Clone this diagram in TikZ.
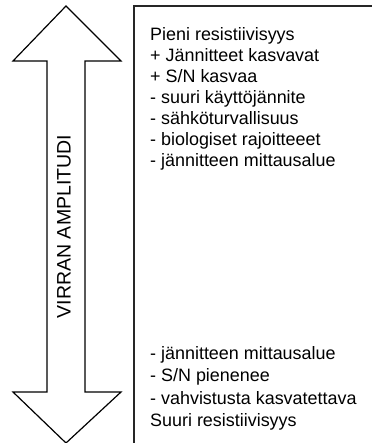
\documentclass[tikz,border=0pt]{standalone}
\usepackage{fontspec}
\setmainfont{Liberation Sans}
\begin{document}
\begin{tikzpicture}[x=1bp,y=-1bp,
  lbl/.style={anchor=base west,inner sep=0pt,font=\fontsize{18}{21}\selectfont},
  arrowshape/.style={draw=black,line width=1.2bp,line join=miter,fill=white},
  boxline/.style={draw=black!85,line width=2.6bp}]
\useasboundingbox (0,0) rectangle (371,443);
% double arrow
\path[arrowshape] (66,6) -- (121,61) -- (85,61) -- (85,392) -- (121,392) -- (66,443)
  -- (13,392) -- (47,392) -- (47,61) -- (13,61) -- cycle;
\node[anchor=base,inner sep=0pt,rotate=90,font=\fontsize{19.6}{22}\selectfont] (amp) at (70.5,226.5) {VIRRAN AMPLITUDI};
% box
\path[boxline] (134,445) -- (134,6) -- (372,6);
% top text
\node[lbl] (t1) at (150,41) {Pieni resistiivisyys};
\node[lbl] (t2) at (150,62) {+ Jännitteet kasvavat};
\node[lbl] (t3) at (150,83) {+ S/N kasvaa};
\node[lbl] (t4) at (150,104) {- suuri käyttöjännite};
\node[lbl] (t5) at (150,125) {- sähköturvallisuus};
\node[lbl] (t6) at (150,146) {- biologiset rajoitteeet};
\node[lbl] (t7) at (150,167) {- jännitteen mittausalue};
% bottom text
\node[lbl] (b1) at (150,359) {- jännitteen mittausalue};
\node[lbl] (b2) at (150,381) {- S/N pienenee};
\node[lbl] (b3) at (150,404) {- vahvistusta kasvatettava};
\node[lbl] (b4) at (150,426) {Suuri resistiivisyys};
\end{tikzpicture}
\end{document}
